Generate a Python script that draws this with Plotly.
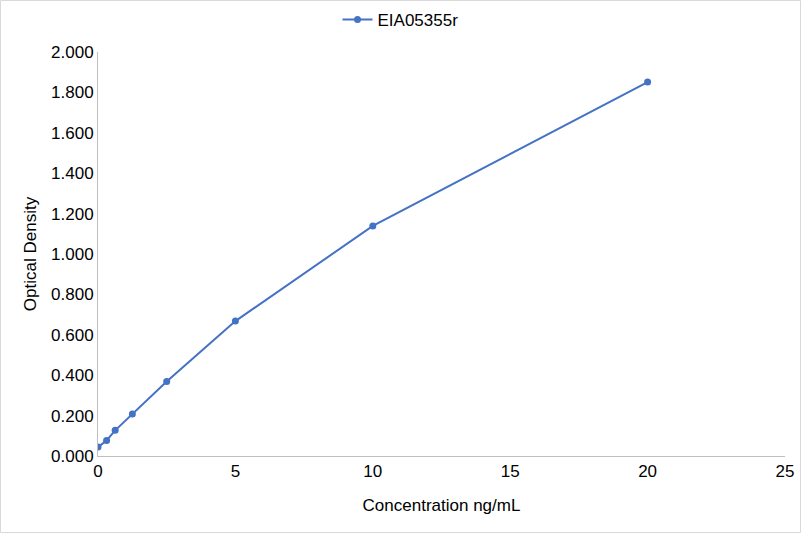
import plotly.graph_objects as go

concentration = [0, 0.3125, 0.625, 1.25, 2.5, 5, 10, 20]
optical_density = [0.044, 0.077, 0.127, 0.208, 0.369, 0.668, 1.139, 1.851]
series_name = "EIA05355r"

W, H = 801, 533
L, R, T, B = 98, 16, 52, 77
pw, ph = W - L - R, H - T - B

fig = go.Figure()
fig.add_trace(go.Scatter(
    x=concentration, y=optical_density, mode="lines+markers", name=series_name,
    line=dict(color="#4472C4", width=2), marker=dict(color="#4472C4", size=7),
))

axis_font = dict(family="Liberation Sans, Arial, sans-serif", size=17, color="#000000")
fig.update_layout(
    width=W, height=H, margin=dict(l=L, r=R, t=T, b=B, autoexpand=False),
    paper_bgcolor="white", plot_bgcolor="white",
    font=axis_font,
    showlegend=True,
    legend=dict(orientation="h", x=0.5, xanchor="center", xref="container",
                y=1 - 20 / H, yanchor="middle", yref="container",
                font=axis_font),
    xaxis=dict(range=[0, 25], tickvals=[0, 5, 10, 15, 20, 25], showgrid=False, zeroline=False,
               showline=True, linecolor="#BFBFBF", linewidth=1, ticks="", automargin=False,
               title=dict(text="Concentration ng/mL", font=axis_font, standoff=18)),
    yaxis=dict(range=[0, 2.0], tickvals=[i * 0.2 for i in range(11)], tickformat=".3f",
               showgrid=False, zeroline=False, showline=True, linecolor="#BFBFBF", linewidth=1, ticks="",
               automargin=False,
               title=dict(text="Optical Density", font=axis_font, standoff=10)),
    shapes=[dict(type="rect", xref="paper", yref="paper",
                 x0=(0.5 - L) / pw, x1=(W - 0.5 - L) / pw,
                 y0=(T + ph - (H - 0.5)) / ph, y1=(T + ph - 0.5) / ph,
                 line=dict(color="#D9D9D9", width=1), fillcolor="rgba(0,0,0,0)", layer="below")],
)
fig.write_html("out.html", config={"displayModeBar": False},
               post_script="document.body.style.margin='0';document.body.style.overflow='hidden';")
